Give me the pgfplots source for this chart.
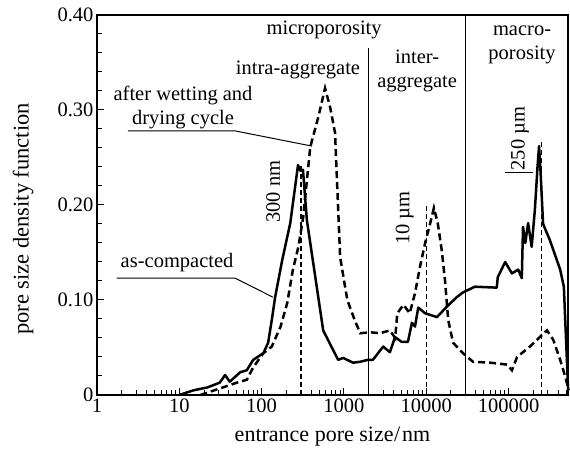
\documentclass[border=0pt]{standalone}
\usepackage{fontspec}
\setmainfont{Liberation Serif}
\usepackage{pgfplots}
\pgfplotsset{compat=1.18}
\begin{document}
\begin{tikzpicture}[font=\fontsize{20.5}{24}\selectfont]
\begin{axis}[
  scale only axis, width=471pt, height=380pt,
  xmode=log, xmin=1, xmax=528000, ymin=0, ymax=0.4,
  xtick={1,10,100,1000,10000,100000},
  xticklabels={1,10,100,1000,10000,100000},
  minor xtick={2,3,4,5,6,7,8,9,20,30,40,50,60,70,80,90,200,300,400,500,600,700,800,900,2000,3000,4000,5000,6000,7000,8000,9000,20000,30000,40000,50000,60000,70000,80000,90000,200000,300000,400000,500000},
  ytick={0,0.1,0.2,0.3,0.4},
  yticklabels={0,0.10,0.20,0.30,0.40},
  minor ytick={0.02,0.04,0.06,0.08,0.12,0.14,0.16,0.18,0.22,0.24,0.26,0.28,0.32,0.34,0.36,0.38},
  xtick pos=bottom, ytick pos=left, tick align=inside,
  major tick length=7pt, minor tick length=5pt,
  axis line style={line width=1.2pt},
  every tick/.style={black, line width=1pt},
  /pgf/number format/assume math mode=true,
  xlabel={entrance pore size\kern0.5pt/\kern2pt nm},
  ylabel={pore size density function},
  xlabel style={at={(axis description cs:0.5,-0.11)}, anchor=center, font=\fontsize{22}{26}\selectfont},
  ylabel style={at={(axis description cs:-0.157,0.463)}, anchor=center, font=\fontsize{22.5}{26}\selectfont},
  clip=false,
]
% as-compacted
\addplot[black, line width=2.5pt, line join=round] coordinates {
(10,0) (15,0.005) (22,0.008) (31,0.013) (36,0.021) (41,0.014) (55,0.024) (66,0.026)
(79,0.037) (105,0.044) (120,0.055) (133,0.079) (146,0.103) (178,0.142) (223,0.181)
(277,0.242) (295,0.236) (318,0.237) (355,0.184) (560,0.068) (850,0.037) (980,0.039)
(1290,0.034) (1580,0.035) (1960,0.037) (2250,0.037) (3000,0.051) (3620,0.045)
(4180,0.061) (5000,0.056) (6000,0.056) (6700,0.076) (7300,0.072) (8000,0.092)
(9700,0.086) (13500,0.082) (17800,0.093) (23500,0.103) (28000,0.108) (39000,0.114)
(72000,0.113) (74000,0.124) (91000,0.140) (110000,0.128) (131000,0.132) (145000,0.123)
(150000,0.177) (160000,0.160) (173000,0.181) (191000,0.156) (209000,0.195)
(225000,0.240) (235000,0.262) (245000,0.235) (263000,0.180) (318000,0.163)
(424000,0.132) (470000,0.114) (530000,0.005)};
% after wetting and drying cycle
\addplot[black, line width=2.5pt, dash pattern=on 7pt off 4pt] coordinates {
(18,0) (34,0.008) (50,0.013) (66,0.016) (79,0.029) (105,0.044) (133,0.051) (170,0.072)
(205,0.097) (240,0.132) (280,0.156) (320,0.187) (390,0.261) (490,0.293) (590,0.323)
(680,0.303) (780,0.276) (830,0.219) (900,0.145) (1100,0.100) (1350,0.079) (1580,0.065)
(2100,0.066) (2750,0.065) (3620,0.068) (4200,0.060) (4450,0.086) (5300,0.095)
(6300,0.086) (7300,0.107) (8400,0.135) (9700,0.160) (11200,0.181) (12400,0.197)
(13800,0.181) (15400,0.153) (16900,0.121) (18500,0.079) (21200,0.055) (28000,0.044)
(37000,0.035) (60000,0.034) (96000,0.032) (110000,0.026) (127000,0.040) (182000,0.051)
(240000,0.061) (293000,0.068) (350000,0.058) (424000,0.037) (490000,0.019) (540000,0.005)};
% region dividers
\addplot[black, line width=1pt] coordinates {(2000,0) (2000,0.365)};
\addplot[black, line width=1pt] coordinates {(30000,0) (30000,0.4)};
% peak markers
\addplot[black, line width=1.3pt, dash pattern=on 5pt off 3pt] coordinates {(300,0) (300,0.242)};
\addplot[black, line width=1.3pt, dash pattern=on 5pt off 3pt] coordinates {(10000,0) (10000,0.200)};
\addplot[black, line width=1.3pt, dash pattern=on 5pt off 3pt] coordinates {(250000,0) (250000,0.268)};
% leaders
\addplot[black, line width=1pt] coordinates {(2.38,0.278) (47.6,0.278) (409,0.262)};
\addplot[black, line width=1pt] coordinates {(1.75,0.123) (47.6,0.123) (137,0.103)};
\addplot[black, line width=1pt] coordinates {(91000,0.234) (199000,0.234)};
% labels
\node at (axis cs:575,0.384) {microporosity};
\node at (axis cs:277,0.342) {intra-aggregate};
\node[align=center, inner sep=0pt] at (axis cs:7760,0.341) {inter-\\aggregate};
\node[align=center, inner sep=0pt] at (axis cs:146000,0.369) {macro-\\porosity};
\node[align=center, inner sep=0pt] at (axis cs:11.1,0.303) {after wetting and\\drying cycle};
\node at (axis cs:9.4,0.139) {as-compacted};
\node[rotate=90] at (axis cs:138,0.214) {300 nm};
\node[rotate=90] at (axis cs:5500,0.186) {10 µm};
\node[rotate=90] at (axis cs:138000,0.27) {250 µm};
\end{axis}
\pgfresetboundingbox
\path[use as bounding box] ([xshift=-97pt,yshift=-56pt]current axis.south west) rectangle ([xshift=2pt,yshift=15pt]current axis.north east);
\end{tikzpicture}
\end{document}
